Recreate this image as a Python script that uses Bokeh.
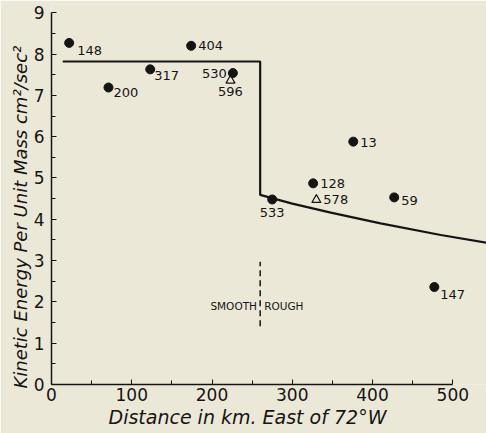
from bokeh.plotting import figure
from bokeh.models import FixedTicker, ColumnDataSource, Label, Title
from bokeh.core.properties import value
from bokeh.embed import file_html
from bokeh.resources import INLINE

# data
dot_x = [22, 71, 123, 174, 226, 376, 326, 427, 275, 477]
dot_y = [8.27, 7.19, 7.63, 8.20, 7.54, 5.88, 4.87, 4.53, 4.48, 2.36]
dot_lab = ["148", "200", "317", "404", "530", "13", "128", "59", "533", "147"]
tri_x = [223, 330]
tri_y = [7.36, 4.47]
tri_lab = ["596", "578"]
line_x = [14, 260, 260, 300, 348, 410, 485, 542]
line_y = [7.82, 7.82, 4.59, 4.38, 4.16, 3.90, 3.62, 3.43]
x_ticks = [0, 100, 200, 300, 400, 500]
y_ticks = [0, 1, 2, 3, 4, 5, 6, 7, 8, 9]
x_title = "Distance in km. East of 72°W"
y_title = "Kinetic Energy Per Unit Mass cm²/sec²"

# label offsets (screen px, positive = down) and alignment
dot_dx = [8, 5, 4, 7, -6, 7, 7, 7, 0, 6]
dot_dy = [8, 5, 6, 0, 0, 1, 0, 3, 13, 7]
dot_al = ["left", "left", "left", "left", "right", "left", "left", "left", "center", "left"]
tri_dx = [0, 7]
tri_dy = [11, 0]
tri_al = ["center", "left"]

BG = "#ece8d8"
INK = "#141414"
FONT = "DejaVu Sans"

p = figure(width=486, height=433, x_range=(0, 542), y_range=(0, 9.2),
           output_backend="svg", toolbar_location=None,
           background_fill_color=BG, border_fill_color=BG,
           min_border_left=51, min_border_right=0, min_border_top=4, min_border_bottom=49)
p.outline_line_color = None
p.grid.visible = False

p.xaxis.ticker = FixedTicker(ticks=x_ticks, minor_ticks=[50, 150, 250, 350, 450])
p.yaxis.ticker = FixedTicker(ticks=y_ticks, minor_ticks=[v + 0.5 for v in y_ticks[:-1]])
p.xaxis.bounds = (0, 500)
p.yaxis.bounds = (0, 9)
for ax in (p.xaxis, p.yaxis):
    ax.major_tick_in = 5
    ax.major_tick_out = 0
    ax.minor_tick_in = 4
    ax.minor_tick_out = 0
    ax.axis_line_color = INK
    ax.axis_line_width = 1.5
    ax.major_tick_line_color = INK
    ax.minor_tick_line_color = INK
    ax.major_label_text_font = FONT
    ax.major_label_text_font_size = "17px"
    ax.major_label_text_color = INK

p.xaxis.major_label_standoff = 3
p.yaxis.major_label_standoff = 7

# axis titles, aligned to the axis span rather than the frame
p.add_layout(Title(text=x_title, align="left", offset=57, standoff=0,
                   text_font=FONT, text_font_size="19px", text_font_style="italic",
                   text_color=INK), "below")
p.add_layout(Title(text=y_title, align="left", offset=-4, standoff=0,
                   text_font=FONT, text_font_size="18px", text_font_style="italic",
                   text_color=INK), "left")

p.line(line_x, line_y, line_color=INK, line_width=2.2)
p.line([260, 260], [1.41, 2.97], line_color=INK, line_width=1.5, line_dash="6 4")

src = ColumnDataSource(dict(x=dot_x, y=dot_y, t=dot_lab, dx=dot_dx, dy=dot_dy, al=dot_al))
p.scatter("x", "y", source=src, marker="circle", size=9, fill_color=INK, line_color=INK)
p.text("x", "y", text="t", source=src, x_offset="dx", y_offset="dy", text_align="al",
       text_baseline="middle", text_font=value(FONT), text_font_size="13px", text_color=INK)

tsrc = ColumnDataSource(dict(x=tri_x, y=tri_y, t=tri_lab, dx=tri_dx, dy=tri_dy, al=tri_al))
p.scatter("x", "y", source=tsrc, marker="triangle", size=9, fill_color=None,
          line_color=INK, line_width=1.2)
p.text("x", "y", text="t", source=tsrc, x_offset="dx", y_offset="dy", text_align="al",
       text_baseline="middle", text_font=value(FONT), text_font_size="13px", text_color=INK)

p.add_layout(Label(x=256, y=1.9, text="SMOOTH", text_align="right", text_baseline="middle",
                   text_font=FONT, text_font_size="10.5px", text_color=INK))
p.add_layout(Label(x=265, y=1.9, text="ROUGH", text_align="left", text_baseline="middle",
                   text_font=FONT, text_font_size="10.5px", text_color=INK))

open("out.html", "w").write(file_html(p, INLINE))
